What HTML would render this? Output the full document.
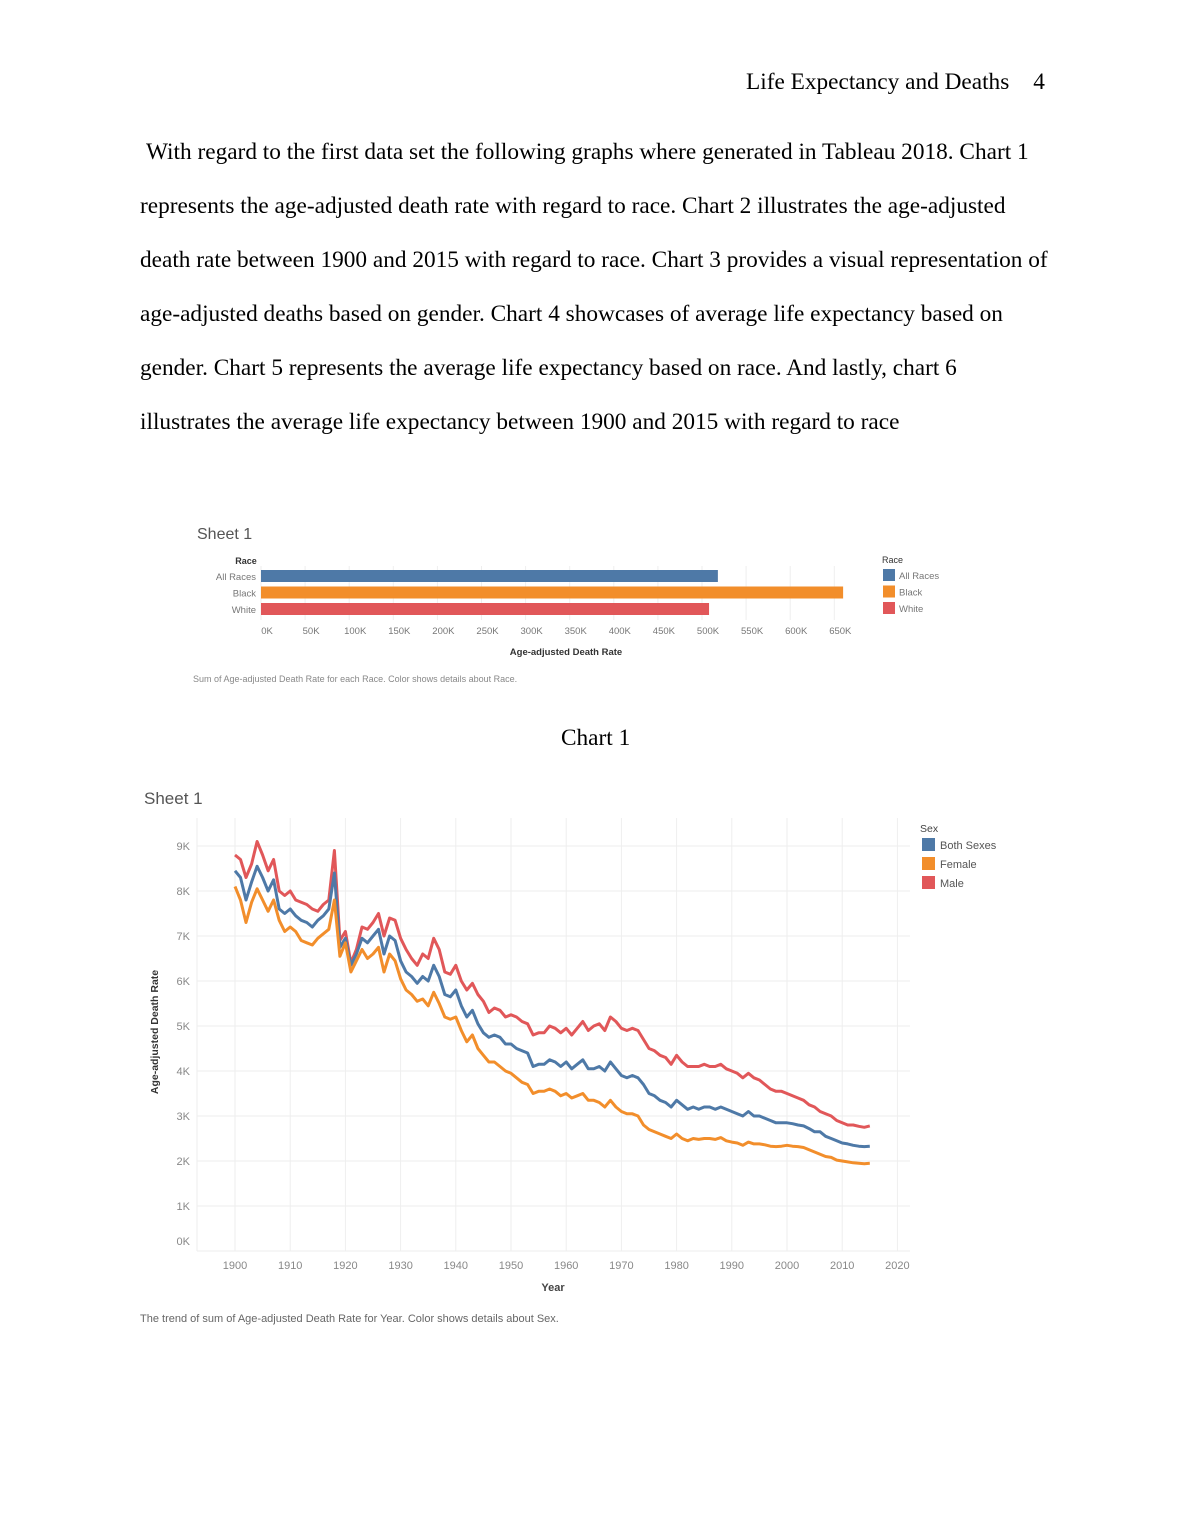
<!DOCTYPE html>
<html><head><meta charset="utf-8"><style>
body{margin:0;background:#fff;}
#page{position:relative;width:1190px;height:1540px;overflow:hidden;font-family:"Liberation Serif",serif;color:#000;}
.p{position:absolute;left:140px;font-size:23.3px;white-space:nowrap;}
svg text{font-family:"Liberation Sans",sans-serif;}
</style></head><body>
<div id="page">
<div style="position:absolute;left:746px;top:69px;font-size:23.3px;">Life Expectancy and Deaths<span style="margin-left:24px">4</span></div>
<div class="p" style="top:139px;left:146px">With regard to the first data set the following graphs where generated in Tableau 2018. Chart 1</div>
<div class="p" style="top:193px">represents the age-adjusted death rate with regard to race. Chart 2 illustrates the age-adjusted</div>
<div class="p" style="top:247px">death rate between 1900 and 2015 with regard to race. Chart 3 provides a visual representation of</div>
<div class="p" style="top:301px">age-adjusted deaths based on gender. Chart 4 showcases of average life expectancy based on</div>
<div class="p" style="top:355px">gender. Chart 5 represents the average life expectancy based on race. And lastly, chart 6</div>
<div class="p" style="top:409px">illustrates the average life expectancy between 1900 and 2015 with regard to race</div>
<div style="position:absolute;left:561px;top:725px;font-size:23.3px;">Chart 1</div>
<svg id="svg" width="1190" height="1540" style="position:absolute;left:0;top:0"></svg>
</div>
<script>
const races=["All Races","Black","White"];
const raceValues=[518,660,508];
const barTicks=[0,50,100,150,200,250,300,350,400,450,500,550,600,650];
const years=[];for(let y=1900;y<=2015;y++)years.push(y);
const male=[8.8,8.7,8.3,8.6,9.1,8.8,8.45,8.7,8.0,7.9,8.0,7.8,7.75,7.7,7.6,7.55,7.7,7.8,8.9,6.9,7.1,6.4,6.7,7.2,7.15,7.3,7.5,7.0,7.4,7.35,6.95,6.7,6.5,6.35,6.6,6.5,6.95,6.7,6.2,6.15,6.35,6.0,5.8,5.95,5.7,5.55,5.3,5.4,5.35,5.2,5.25,5.2,5.1,5.05,4.8,4.85,4.85,5.0,4.95,4.85,4.95,4.8,4.95,5.1,4.9,5.0,5.05,4.9,5.2,5.1,4.95,4.9,4.95,4.9,4.7,4.5,4.45,4.35,4.3,4.15,4.35,4.2,4.1,4.1,4.1,4.15,4.1,4.1,4.15,4.05,4.0,3.95,3.85,3.95,3.85,3.8,3.7,3.6,3.55,3.55,3.5,3.45,3.4,3.35,3.25,3.2,3.1,3.05,3.0,2.9,2.85,2.8,2.8,2.77,2.75,2.78];
const both=[8.45,8.3,7.8,8.2,8.55,8.3,8.0,8.25,7.6,7.5,7.6,7.45,7.35,7.3,7.2,7.35,7.45,7.6,8.4,6.75,6.95,6.35,6.6,6.95,6.85,7.0,7.15,6.6,7.0,6.9,6.45,6.2,6.1,5.95,6.1,6.0,6.35,6.1,5.7,5.65,5.8,5.45,5.2,5.35,5.05,4.85,4.75,4.8,4.75,4.6,4.6,4.5,4.45,4.4,4.1,4.15,4.15,4.25,4.2,4.1,4.2,4.05,4.15,4.25,4.05,4.05,4.1,4.0,4.2,4.05,3.9,3.85,3.9,3.85,3.7,3.5,3.45,3.35,3.3,3.2,3.35,3.25,3.15,3.2,3.15,3.2,3.2,3.15,3.2,3.15,3.1,3.05,3.0,3.1,3.0,3.0,2.95,2.9,2.85,2.85,2.85,2.83,2.8,2.78,2.72,2.65,2.65,2.55,2.5,2.45,2.4,2.38,2.35,2.33,2.32,2.33];
const female=[8.1,7.8,7.3,7.75,8.05,7.8,7.55,7.8,7.35,7.1,7.2,7.1,6.9,6.85,6.8,6.95,7.05,7.15,7.8,6.55,6.85,6.2,6.45,6.7,6.5,6.6,6.75,6.2,6.6,6.45,6.05,5.8,5.7,5.55,5.6,5.45,5.75,5.5,5.2,5.15,5.2,4.9,4.65,4.8,4.5,4.35,4.2,4.2,4.1,4.0,3.95,3.85,3.75,3.7,3.5,3.55,3.55,3.6,3.55,3.45,3.5,3.4,3.45,3.5,3.35,3.35,3.3,3.2,3.35,3.2,3.1,3.05,3.05,3.0,2.8,2.7,2.65,2.6,2.55,2.5,2.6,2.5,2.45,2.5,2.48,2.5,2.5,2.48,2.52,2.45,2.42,2.4,2.35,2.42,2.38,2.38,2.36,2.33,2.32,2.33,2.35,2.33,2.32,2.3,2.25,2.2,2.15,2.1,2.08,2.02,2.0,1.98,1.96,1.95,1.94,1.95];
const yTicks=[0,1,2,3,4,5,6,7,8,9];
const xTicks=[1900,1910,1920,1930,1940,1950,1960,1970,1980,1990,2000,2010,2020];
const sexes=["Both Sexes","Female","Male"];

const NS="http://www.w3.org/2000/svg";
const svg=document.getElementById('svg');
function mk(tag,attrs,txt){const e=document.createElementNS(NS,tag);for(const k in attrs)e.setAttribute(k,attrs[k]);if(txt!==undefined)e.textContent=txt;svg.appendChild(e);return e;}
const raceColors=["#4e79a7","#f28e2b","#e15759"];
const sexColors=["#4e79a7","#f28e2b","#e15759"];

// ---- Chart 1 (bar)
const bx=v=>261+v*0.882;
let t=mk('text',{x:197,y:539,'font-size':16,fill:'#555'},'Sheet 1');


barTicks.forEach(v=>{
 const g=mk('line',{x1:bx(v),x2:bx(v),y1:566,y2:620,stroke:'#eee','stroke-width':1});
 
 
 const l=mk('text',{x:bx(v)+6,y:634,'font-size':9.5,fill:'#777','text-anchor':'middle'},v+'K');
 
 
});
t=mk('text',{x:246,y:564,'font-size':9,fill:'#333','text-anchor':'middle','font-weight':'bold'},'Race');


races.forEach((r,i)=>{
 const y=570+i*16.5;
 const b=mk('rect',{x:261,y:y,width:bx(raceValues[i])-261,height:12,fill:raceColors[i]});
 
 
 const l=mk('text',{x:256,y:y+10,'font-size':9.5,fill:'#777','text-anchor':'end'},r);
 
 
 const s=mk('rect',{x:883,y:569+i*16.5,width:12,height:12,fill:raceColors[i]});
 
 
 const lt=mk('text',{x:899,y:579+i*16.5,'font-size':9.5,fill:'#777'},r);
 
 
});
t=mk('text',{x:882,y:563,'font-size':9,fill:'#333'},'Race');


t=mk('text',{x:566,y:655,'font-size':9.5,fill:'#333','text-anchor':'middle','font-weight':'bold'},'Age-adjusted Death Rate');


t=mk('text',{x:193,y:682,'font-size':9,fill:'#888'},'Sum of Age-adjusted Death Rate for each Race.  Color shows details about Race.');



// ---- Chart 2 (line)
const lx=y=>235+(y-1900)*5.52;
const ly=v=>1251-v*45;
t=mk('text',{x:144,y:804,'font-size':17,fill:'#555'},'Sheet 1');


yTicks.forEach(v=>{
 const g=mk('line',{x1:197,x2:910,y1:ly(v),y2:ly(v),stroke:'#eee','stroke-width':1});
 
 
 const l=mk('text',{x:190,y:v===0?1245:ly(v)+4,'font-size':11,fill:'#888','text-anchor':'end'},v+'K');
 
 
});
xTicks.forEach(v=>{
 const g=mk('line',{x1:lx(v),x2:lx(v),y1:818,y2:1251,stroke:'#eee','stroke-width':1});
 
 
 const l=mk('text',{x:lx(v),y:1269,'font-size':11,fill:'#888','text-anchor':'middle'},String(v));
 
 
});
const g2=mk('line',{x1:197,x2:197,y1:818,y2:1251,stroke:'#eee'});


const order=[[male,2],[both,0],[female,1]];
order.forEach(([arr,ci])=>{
 const d=arr.map((v,k)=>(k?'L':'M')+lx(years[k]).toFixed(1)+','+ly(v).toFixed(1)).join('');
 const p=mk('path',{d:d,fill:'none',stroke:sexColors[ci],'stroke-width':3,'stroke-linejoin':'round'});
 
 
});
t=mk('text',{x:553,y:1291,'font-size':11,fill:'#444','text-anchor':'middle','font-weight':'bold'},'Year');


t=mk('text',{x:158,y:1032,'font-size':10.5,fill:'#333','text-anchor':'middle','font-weight':'bold',transform:'rotate(-90 158 1032)'},'Age-adjusted Death Rate');


t=mk('text',{x:920,y:832,'font-size':10.5,fill:'#444'},'Sex');


sexes.forEach((s,i)=>{
 const r=mk('rect',{x:922,y:838+i*19,width:13,height:13,fill:sexColors[i]});
 
 
 const l=mk('text',{x:940,y:849+i*19,'font-size':11,fill:'#555'},s);
 
 
});
t=mk('text',{x:140,y:1322,'font-size':11,fill:'#666'},'The trend of sum of Age-adjusted Death Rate for Year.  Color shows details about Sex.');


</script>
</body></html>
